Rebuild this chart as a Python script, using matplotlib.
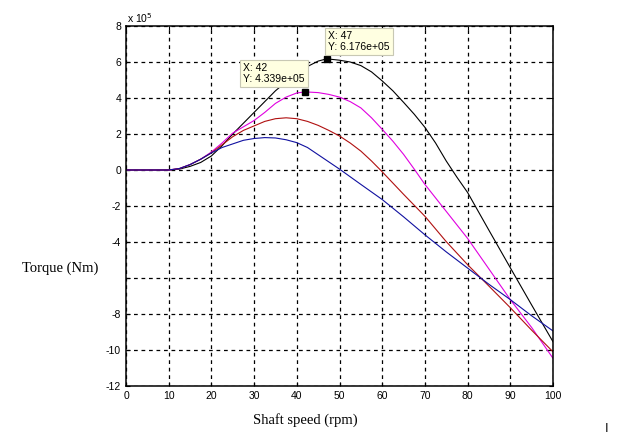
import numpy as np
import matplotlib
matplotlib.use('Agg')
import matplotlib.pyplot as plt

# Drehmoment-Kurven (Werte in 1e5 Nm)
x_black = [0, 5, 10, 12.5, 15, 17.5, 20, 22.5, 25, 27.5, 30, 32.5, 35, 37.5, 40, 42.5, 45, 47,
           50, 52.5, 55, 57.5, 60, 62.5, 65, 67.5, 70, 72.5, 75, 77.5, 80, 85, 90, 95, 100]
y_black = [0, 0, 0, 0.05, 0.2, 0.42, 0.78, 1.35, 2.0, 2.6, 3.2, 3.8, 4.4, 4.9, 5.35, 5.75, 6.05, 6.176,
           6.1, 6.0, 5.8, 5.45, 4.95, 4.4, 3.76, 3.1, 2.37, 1.5, 0.5, -0.4, -1.25, -3.35, -5.43, -7.5, -9.54]

x_mag = [0, 5, 10, 12.5, 15, 17.5, 20, 22.5, 25, 27.5, 30, 32.5, 35, 37.5, 40, 42, 45, 47.5,
         50, 52.5, 55, 57.5, 60, 62.5, 65, 67.5, 70, 75, 80, 85, 90, 95, 100]
y_mag = [0, 0, 0, 0.08, 0.3, 0.6, 1.0, 1.5, 2.05, 2.4, 2.75, 3.2, 3.7, 4.05, 4.28, 4.339, 4.3, 4.2,
         4.05, 3.8, 3.45, 2.9, 2.26, 1.6, 0.87, 0.05, -0.8, -2.3, -3.8, -5.5, -7.2, -8.75, -10.46]

x_red = [0, 5, 10, 12.5, 15, 17.5, 20, 22.5, 25, 27.5, 30, 32.5, 35, 37.5, 40, 42.5, 45, 47.5,
         50, 52.5, 55, 57.5, 60, 65, 70, 75, 80, 85, 90, 95, 100]
y_red = [0, 0, 0, 0.08, 0.3, 0.6, 0.95, 1.4, 1.85, 2.2, 2.45, 2.7, 2.85, 2.9, 2.85, 2.7, 2.48, 2.2,
         1.89, 1.5, 1.05, 0.5, -0.1, -1.35, -2.57, -3.98, -5.26, -6.45, -7.65, -8.9, -10.1]

x_blue = [0, 5, 10, 12.5, 15, 17.5, 20, 22.5, 25, 27.5, 30, 32.5, 35, 37.5, 40, 42.5, 45, 47.5,
          50, 55, 60, 65, 70, 75, 80, 85, 90, 95, 100]
y_blue = [0, 0, 0, 0.08, 0.3, 0.6, 0.95, 1.25, 1.45, 1.65, 1.75, 1.8, 1.78, 1.68, 1.52, 1.25, 0.85, 0.45,
          0.05, -0.8, -1.64, -2.6, -3.6, -4.55, -5.45, -6.35, -7.2, -8.1, -8.94]

x_ticks = [0, 10, 20, 30, 40, 50, 60, 70, 80, 90, 100]
y_ticks = [-12, -10, -8, -6, -4, -2, 0, 2, 4, 6, 8]
y_ticklabels = ['-12', '-10', '-8', '', '-4', '-2', '0', '2', '4', '6', '8']

tips = [(42, 4.339, 'X: 42\nY: 4.339e+05', 243, 5.35),
        (47, 6.176, 'X: 47\nY: 6.176e+05', 328, 7.15)]

fig = plt.figure(figsize=(6.33, 4.32), dpi=100)
ax = fig.add_axes([126/633, 46/432, 427/633, 360/432])

ax.plot(x_black, y_black, color='black', lw=0.8)
ax.plot(x_mag, y_mag, color='#e000e0', lw=0.8)
ax.plot(x_red, y_red, color='#b01010', lw=0.8)
ax.plot(x_blue, y_blue, color='#1010a0', lw=0.8)

ax.set_xlim(0, 100)
ax.set_ylim(-12, 8)
ax.set_xticks(x_ticks)
ax.set_yticks(y_ticks)
ax.set_yticklabels(y_ticklabels)
ax.tick_params(direction='in', length=3, labelsize=7.5, top=True, right=True,
               labelfontfamily='Liberation Sans')
ax.grid(True, color='black', linestyle=(0, (3, 3)), lw=0.9)
for s in ax.spines.values():
    s.set_linewidth(1.1)

# Datentipps
for tx, ty, txt, px, yy in tips:
    ax.plot(tx, ty, 's', color='black', ms=4.5, zorder=5)
    ax.text((px - 126) / 4.27, yy, txt, fontsize=7.5, family='Liberation Sans',
            va='center', ha='left', linespacing=1.1, zorder=6,
            bbox=dict(boxstyle='square,pad=0.3', fc='#ffffe1', ec='#c8c8b4', lw=0.8))

fig.text(127/633, 1 - 18/432, r'x 10$^{5}$', fontsize=7.5, family='Liberation Sans',
         va='center', ha='left')
fig.text(22/633, 1 - 268/432, 'Torque (Nm)', fontsize=10.5, family='Liberation Serif',
         va='center', ha='left')
fig.text(305/633, 1 - 420/432, 'Shaft speed (rpm)', fontsize=10.5, family='Liberation Serif',
         va='center', ha='center')
fig.text(607/633, 1 - 428/432, '|', fontsize=7, fontweight='bold', va='center', ha='center')

fig.savefig('out.png', dpi=100)
